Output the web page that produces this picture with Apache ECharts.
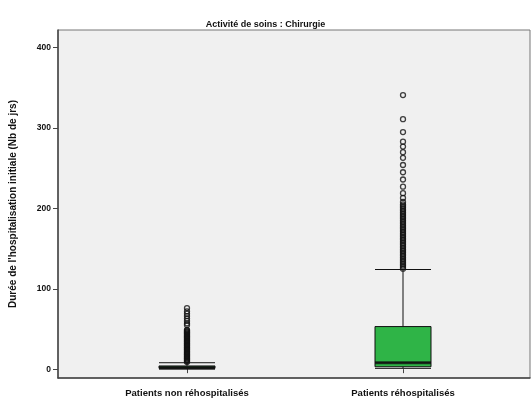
<!DOCTYPE html>
<html><head><meta charset="utf-8">
<script src="https://cdn.jsdelivr.net/npm/echarts@6/dist/echarts.min.js"></script>
<style>html,body{margin:0;padding:0;background:#fff}#c{width:531px;height:405px}</style>
</head><body><div id="c"></div>
<script>
const chartTitle = "Activité de soins : Chirurgie";
const yAxisName = "Durée de l'hospitalisation initiale (Nb de jrs)";
const categories = ["Patients non réhospitalisés", "Patients réhospitalisés"];
const yTicks = [0, 100, 200, 300, 400];
// [min, Q1, median, Q3, max]
const boxNonRehosp = [0, 1, 2, 4, 8];
const boxRehosp = [1, 3, 8, 53, 124];
const outliersNonRehosp = [76, 72, 69, 66, 63, 60, 57, 55, 49, 48, 47, 46, 45, 44, 43, 42, 41, 40, 39, 38, 37, 36, 35, 34, 33, 32, 31, 30, 29, 28, 27, 26, 25, 24, 23, 22, 21, 20, 19, 18, 17, 16, 15, 14, 13, 12, 11, 10, 9];
const outliersRehosp = [341, 311, 295, 283, 277, 270, 263, 254, 245, 236, 227, 219, 213, 208, 205, 203, 201, 199, 197, 195, 193, 191, 189, 187, 185, 183, 181, 179, 177, 175, 173, 171, 169, 167, 165, 163, 161, 159, 157, 155, 153, 151, 149, 147, 145, 143, 141, 139, 137, 135, 133, 131, 129, 127, 125];

const font = 'Liberation Sans, Arial, sans-serif';
const chart = echarts.init(document.getElementById('c'), null, {renderer: 'canvas'});
const outlierData = [];
outliersNonRehosp.forEach(v => outlierData.push([0, v]));
outliersRehosp.forEach(v => outlierData.push([1, v]));
const medians = [[0, boxNonRehosp[2]], [1, boxRehosp[2]]];

chart.setOption({
  animation: false,
  backgroundColor: '#ffffff',
  title: {
    text: chartTitle, left: 'center', top: 15,
    textStyle: {fontFamily: font, fontSize: 9, fontWeight: 'bold', color: '#111'}
  },
  grid: [
    {left: 56, right: 1, top: 30, bottom: 27, show: true, backgroundColor: '#f0f0f0', borderColor: '#777', borderWidth: 1},
    {left: 79, width: 432, top: 30, bottom: 27}
  ],
  xAxis: [
    {gridIndex: 0, type: 'value', min: 0, max: 1, show: true,
     axisLine: {show: true, onZero: false, lineStyle: {color: '#444', width: 1.5}},
     axisTick: {show: false}, axisLabel: {show: false}, splitLine: {show: false}},
    {gridIndex: 1, type: 'category', data: categories, boundaryGap: true,
     axisLine: {show: false},
     axisTick: {show: true, alignWithLabel: true, length: 4, lineStyle: {color: '#444'}},
     axisLabel: {show: true, interval: 0, margin: 10, fontFamily: font, fontSize: 9.5, fontWeight: 'bold', color: '#111'},
     splitLine: {show: false}}
  ],
  yAxis: [
    {gridIndex: 0, type: 'value', min: -11, max: 422,
     name: yAxisName, nameLocation: 'middle', nameGap: 40, nameRotate: 90,
     nameTextStyle: {fontFamily: font, fontSize: 10, fontWeight: 'bold', color: '#111'},
     axisLine: {show: true, lineStyle: {color: '#444', width: 1.5}},
     axisTick: {show: true, length: 5, customValues: yTicks, lineStyle: {color: '#444'}},
     axisLabel: {show: true, customValues: yTicks, margin: 7, fontFamily: font, fontSize: 8.5, fontWeight: 'bold', color: '#111'},
     splitLine: {show: false}},
    {gridIndex: 1, type: 'value', min: -11, max: 422, show: false, splitLine: {show: false}}
  ],
  series: [
    {type: 'boxplot', xAxisIndex: 1, yAxisIndex: 1, boxWidth: [56, 56],
     data: [boxNonRehosp, boxRehosp],
     itemStyle: {color: '#2fb447', borderColor: '#111', borderWidth: 1}},
    {type: 'scatter', xAxisIndex: 1, yAxisIndex: 1, data: medians,
     symbol: 'rect', symbolSize: [56, 3], itemStyle: {color: '#111'}, z: 5},
    {type: 'scatter', xAxisIndex: 1, yAxisIndex: 1, data: outlierData,
     symbol: 'circle', symbolSize: 5,
     itemStyle: {color: 'rgba(0,0,0,0)', borderColor: '#111', borderWidth: 1.3}, z: 4}
  ]
});
</script></body></html>
